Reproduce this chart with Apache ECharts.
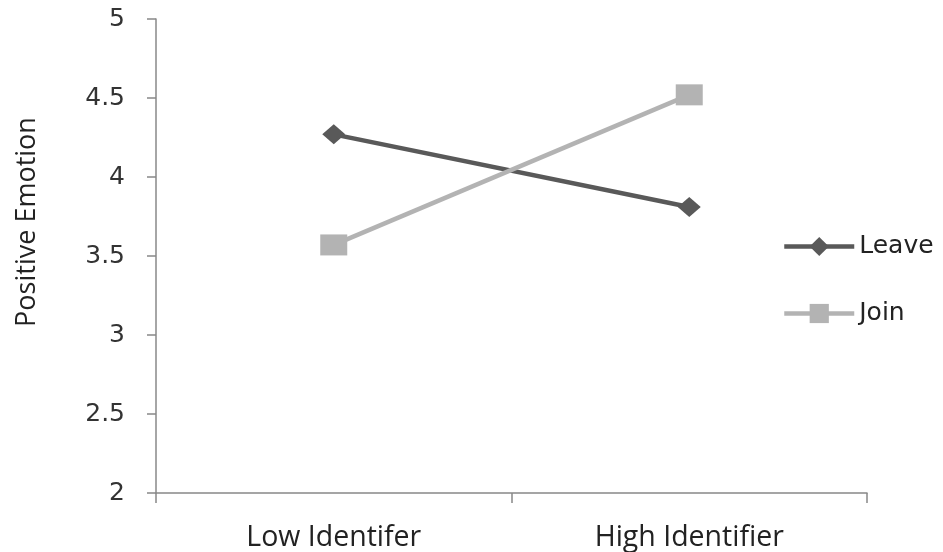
<!DOCTYPE html>
<html>
<head>
<meta charset="utf-8">
<script src="https://cdn.jsdelivr.net/npm/echarts@6/dist/echarts.min.js"></script>
<style>
  html, body { margin: 0; padding: 0; background: #fff; }
  #chart { width: 943px; height: 552px; }
</style>
</head>
<body>
<div id="chart"></div>
<script>
// Group identification levels on the x axis
const categories = ['Low Identifer', 'High Identifier'];
// Mean positive emotion per condition
const leaveValues = [4.27, 3.81];
const joinValues = [3.57, 4.52];
// Y axis range and step
const yMin = 2, yMax = 5, yStep = 0.5;

const leaveColor = '#595959';
const joinColor = '#b3b3b3';
const axisColor = '#888888';

const chart = echarts.init(document.getElementById('chart'));
chart.setOption({
  backgroundColor: '#ffffff',
  animation: false,
  grid: { left: 156, right: 76, top: 19, bottom: 59 },
  legend: {
    orient: 'vertical',
    left: 777,
    top: 229,
    itemWidth: 70,
    itemHeight: 24,
    itemGap: 42,
    lineStyle: { width: 4.5 },
    textStyle: { fontFamily: 'DejaVu Sans', fontSize: 25, lineHeight: 25, color: '#222' },
    data: ['Leave', 'Join']
  },
  xAxis: {
    type: 'category',
    data: categories,
    boundaryGap: true,
    axisLine: { lineStyle: { color: axisColor, width: 1.5 } },
    axisTick: { show: true, length: 10, lineStyle: { color: axisColor, width: 1.5 } },
    axisLabel: { margin: 30, fontFamily: 'Open Sans', fontSize: 28.5, color: '#222' }
  },
  yAxis: {
    type: 'value',
    min: yMin, max: yMax, interval: yStep,
    name: 'Positive Emotion',
    nameLocation: 'middle',
    nameGap: 115,
    nameRotate: 90,
    nameTextStyle: { fontFamily: 'Open Sans', fontSize: 27, color: '#222', padding: [0, 0, 0, 68] },
    axisLine: { show: true, lineStyle: { color: axisColor, width: 1.5 } },
    axisTick: { show: true, length: 9, lineStyle: { color: axisColor, width: 1.5 } },
    splitLine: { show: false },
    axisLabel: { margin: 31, fontFamily: 'DejaVu Sans', fontSize: 25, color: '#333' }
  },
  series: [
    {
      name: 'Leave',
      type: 'line',
      data: leaveValues,
      symbol: 'diamond',
      symbolSize: [23, 20],
      lineStyle: { color: leaveColor, width: 4.5 },
      itemStyle: { color: leaveColor }
    },
    {
      name: 'Join',
      type: 'line',
      data: joinValues,
      symbol: 'rect',
      symbolSize: [27, 21],
      lineStyle: { color: joinColor, width: 4.5 },
      itemStyle: { color: joinColor }
    }
  ]
});
</script>
</body>
</html>
